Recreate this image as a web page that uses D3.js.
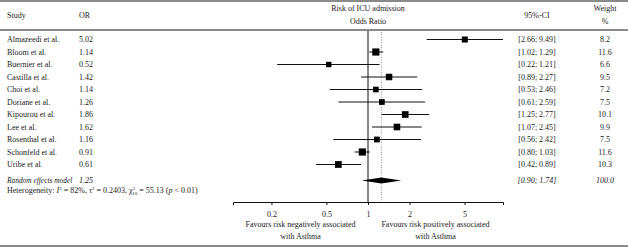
<!DOCTYPE html>
<html lang="en">
<head>
  <meta charset="utf-8">
  <title>Risk of ICU admission forest plot</title>
  <script src="https://cdn.jsdelivr.net/npm/d3@7"></script>
  <style>
    body { margin: 0; background: #fff; }
    svg text { font-family: "Liberation Serif", "DejaVu Serif", serif; font-size: 8px; fill: #222; }
  </style>
</head>
<body>
<script>
  const studies = ["Almazeedi et al.", "Bloom et al.", "Buernier et al.", "Castilla et al.", "Choi et al.",
    "Doriane et al.", "Kipourou et al.", "Lee et al.", "Rosenthal et al.", "Schonfeld et al.", "Uribe et al."];
  const oddsRatio = [5.02, 1.14, 0.52, 1.42, 1.14, 1.26, 1.86, 1.62, 1.16, 0.91, 0.61];
  const ciLower = [2.66, 1.02, 0.22, 0.89, 0.53, 0.61, 1.25, 1.07, 0.56, 0.80, 0.42];
  const ciUpper = [9.49, 1.29, 1.21, 2.27, 2.46, 2.59, 2.77, 2.45, 2.42, 1.03, 0.89];
  const weights = [8.2, 11.6, 6.6, 9.5, 7.2, 7.5, 10.1, 9.9, 7.5, 11.6, 10.3];
  const pooled = { or: 1.25, lower: 0.90, upper: 1.74, weight: 100.0 };
  const tickValues = [0.2, 0.5, 1, 2, 5];

  const W = 628, H = 252;
  const fmt2 = d3.format(".2f");

  const svg = d3.select("body").append("svg")
    .attr("width", W).attr("height", H);

  const x = d3.scaleLog().domain([1 / 9.49, 9.49]).range([233, 503]);
  const y = d3.scaleLinear().domain([0, studies.length - 1]).range([39.5, 164.5]);
  const ySum = 180.5, yAxis = 202;
  const colStudy = 7, colOR = 79, colCI = 537, colW = 605;

  // frame lines
  [1, 30, 246].forEach(function(ly) {
    svg.append("line").attr("x1", 0).attr("x2", W).attr("y1", ly).attr("y2", ly)
      .attr("stroke", "#8a8a8a").attr("stroke-width", 2);
  });

  // header
  svg.append("text").attr("x", colStudy).attr("y", 17.5).text("Study");
  svg.append("text").attr("x", colOR).attr("y", 17.5).text("OR");
  svg.append("text").attr("x", x(1)).attr("y", 11).attr("text-anchor", "middle").text("Risk of ICU admission");
  svg.append("text").attr("x", x(1)).attr("y", 24).attr("text-anchor", "middle").text("Odds Ratio");
  svg.append("text").attr("x", colCI).attr("y", 17.5).attr("text-anchor", "middle").text("95%-CI");
  svg.append("text").attr("x", colW).attr("y", 11).attr("text-anchor", "middle").text("Weight");
  svg.append("text").attr("x", colW).attr("y", 24).attr("text-anchor", "middle").text("%");

  // reference lines
  svg.append("line").attr("x1", x(1)).attr("x2", x(1)).attr("y1", 31).attr("y2", yAxis)
    .attr("stroke", "#111").attr("stroke-width", 1);
  svg.append("line").attr("x1", x(pooled.or)).attr("x2", x(pooled.or)).attr("y1", 32).attr("y2", yAxis)
    .attr("stroke", "#999").attr("stroke-width", 1).attr("stroke-dasharray", "1,1.5");

  // study rows
  const side = w => 2.1 * Math.sqrt(w);
  const rows = svg.selectAll("g.row").data(studies).enter().append("g").attr("class", "row");
  rows.append("line")
    .attr("x1", (d, i) => x(ciLower[i])).attr("x2", (d, i) => x(ciUpper[i]))
    .attr("y1", (d, i) => y(i)).attr("y2", (d, i) => y(i))
    .attr("stroke", "#111").attr("stroke-width", 1);
  rows.append("rect")
    .attr("x", (d, i) => x(oddsRatio[i]) - side(weights[i]) / 2)
    .attr("y", (d, i) => y(i) - side(weights[i]) / 2)
    .attr("width", (d, i) => side(weights[i]))
    .attr("height", (d, i) => side(weights[i]))
    .attr("fill", "#000");
  rows.append("text").attr("x", colStudy).attr("y", (d, i) => y(i) + 2.8).text(d => d);
  rows.append("text").attr("x", colOR).attr("y", (d, i) => y(i) + 2.8).text((d, i) => fmt2(oddsRatio[i]));
  rows.append("text").attr("x", colCI).attr("y", (d, i) => y(i) + 2.8).attr("text-anchor", "middle")
    .text((d, i) => "[" + fmt2(ciLower[i]) + "; " + fmt2(ciUpper[i]) + "]");
  rows.append("text").attr("x", colW).attr("y", (d, i) => y(i) + 2.8).attr("text-anchor", "middle")
    .text((d, i) => weights[i].toFixed(1));

  // pooled row
  svg.append("path")
    .attr("d", d3.line()([[x(pooled.lower), ySum], [x(pooled.or), ySum - 3], [x(pooled.upper), ySum], [x(pooled.or), ySum + 3]]) + "Z")
    .attr("fill", "#000");
  function italic(sel) { return sel.style("font-style", "italic"); }
  italic(svg.append("text").attr("x", colStudy).attr("y", ySum + 2.8).style("font-size", "7.4px").text("Random effects model"));
  italic(svg.append("text").attr("x", colOR).attr("y", ySum + 2.8).text(fmt2(pooled.or)));
  italic(svg.append("text").attr("x", colCI).attr("y", ySum + 2.8).attr("text-anchor", "middle")
    .text("[" + fmt2(pooled.lower) + "; " + fmt2(pooled.upper) + "]"));
  italic(svg.append("text").attr("x", colW).attr("y", ySum + 2.8).attr("text-anchor", "middle")
    .text(pooled.weight.toFixed(1)));

  // heterogeneity
  const het = svg.append("text").attr("x", colStudy).attr("y", 193);
  het.append("tspan").text("Heterogeneity: ");
  het.append("tspan").style("font-style", "italic").text("I");
  het.append("tspan").attr("dy", -3).style("font-size", "5px").text("2");
  het.append("tspan").attr("dy", 3).text(" = 82%, \u03c4");
  het.append("tspan").attr("dy", -3).style("font-size", "5px").text("2");
  het.append("tspan").attr("dy", 3).text(" = 0.2403, \u03c7");
  het.append("tspan").attr("dy", -3).style("font-size", "5px").text("2");
  het.append("tspan").attr("dy", 5).attr("dx", -2.8).style("font-size", "5px").text("10");
  het.append("tspan").attr("dy", -2).text(" = 55.13 (");
  het.append("tspan").style("font-style", "italic").text("p");
  het.append("tspan").text(" < 0.01)");

  // axis
  const axis = d3.axisBottom(x).tickValues(tickValues).tickSize(3).tickSizeOuter(3)
    .tickFormat(d3.format(""));
  const ga = svg.append("g").attr("transform", "translate(0," + yAxis + ")").call(axis);
  ga.selectAll("path, line").attr("stroke", "#111");
  ga.selectAll("text").attr("y", 9).style("font-size", "8px").attr("font-family", null).attr("fill", "#222");

  const xl = (x.range()[0] + x(1)) / 2, xr = (x(1) + x.range()[1]) / 2;
  svg.append("text").attr("x", xl).attr("y", 227).attr("text-anchor", "middle").text("Favours risk negatively associated");
  svg.append("text").attr("x", xl).attr("y", 239).attr("text-anchor", "middle").text("with Asthma");
  svg.append("text").attr("x", xr).attr("y", 227).attr("text-anchor", "middle").text("Favours risk positively associated");
  svg.append("text").attr("x", xr).attr("y", 239).attr("text-anchor", "middle").text("with Asthma");
</script>
</body>
</html>
